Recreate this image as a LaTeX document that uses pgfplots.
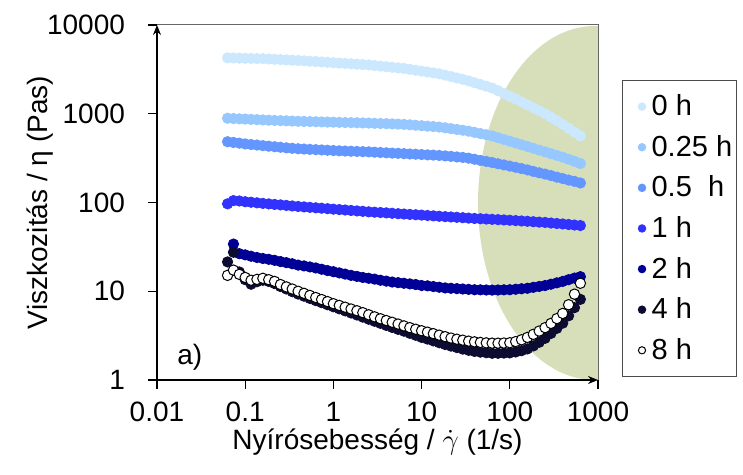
\documentclass[border=0pt]{standalone}
\usepackage{fontspec}
\setmainfont{Liberation Sans}
\usepackage{pgfplots}
\usepackage{pgfplotstable}
\pgfplotsset{compat=1.18}
\usetikzlibrary{arrows.meta}

\definecolor{c0}{RGB}{204,232,255}
\definecolor{c1}{RGB}{150,200,255}
\definecolor{c2}{RGB}{100,150,255}
\definecolor{c3}{RGB}{50,50,255}
\definecolor{c4}{RGB}{0,0,150}
\definecolor{c5}{RGB}{12,12,50}
\definecolor{ellg}{RGB}{214,223,186}

% shear rate (1/s), viscosity (Pas) after 0, 0.25, 0.5, 1, 2, 4, 8 h
\pgfplotstableread{
x      h0   h025 h05 h1    h2    h4   h8
0.0631 4266 891  484 96.6  nan   21.4 15.1
0.0736 4246 883  475 105   34.0  27.5 17.3
0.0858 4230 876  466 104   26.5  16.5 15.5
0.1    4217 871  457 102   25.7  13.5 14.3
0.1166 4198 864  450 100.7 24.8  12.0 13.3
0.1359 4182 858  444 99.2  24.0  12.8 13.6
0.1585 4169 851  437 97.7  23.4  13.3 14.0
0.1848 4137 846  431 96.4  22.9  12.9 13.5
0.2154 4106 841  425 95.1  22.3  12.2 12.9
0.2512 4074 836  419 94.0  21.6  11.3 11.9
0.2929 4043 832  413 92.7  21.0  10.6 11.2
0.3415 4012 827  408 91.4  20.4  9.9  10.6
0.3981 3981 822  403 90.2  19.7  9.3  10.0
0.4642 3944 819  400 89.2  19.3  8.8  9.47
0.5412 3908 816  397 88.2  18.8  8.3  8.97
0.631  3873 813  394 87.1  18.3  7.85 8.5
0.7356 3837 809  391 86.2  17.7  7.44 8.07
0.8577 3799 806  388 85.2  17.1  7.05 7.65
1      3758 804  385 84.1  16.6  6.68 7.24
1.166  3724 800  382 83.2  16.1  6.34 6.92
1.359  3690 797  380 82.3  15.6  6.01 6.61
1.585  3656 794  378 81.3  15.1  5.69 6.31
1.848  3617 791  376 80.4  14.7  5.40 6.03
2.154  3581 788  374 79.5  14.3  5.11 5.74
2.512  3548 785  372 78.5  14.0  4.84 5.43
2.929  3494 780  369 77.8  13.7  4.59 5.15
3.415  3441 776  366 77.1  13.3  4.35 4.90
3.981  3388 773  363 76.4  13.0  4.12 4.68
4.642  3337 768  360 75.6  12.7  3.91 4.47
5.412  3286 764  358 74.8  12.5  3.72 4.27
6.31   3236 759  355 74.1  12.3  3.55 4.07
7.356  3163 750  352 73.4  12.1  3.36 3.89
8.577  3091 742  350 72.8  11.9  3.19 3.73
10     3020 733  347 72.1  11.6  3.02 3.59
11.66  2951 725  344 71.4  11.5  2.89 3.46
13.59  2884 717  342 70.7  11.3  2.76 3.33
15.85  2818 708  339 70.0  11.1  2.63 3.20
18.48  2721 694  335 69.3  10.9  2.51 3.08
21.54  2625 680  331 68.7  10.8  2.41 2.97
25.12  2529 665  326 68.1  10.7  2.32 2.88
29.29  2442 652  322 67.4  10.6  2.23 2.81
34.15  2346 636  316 66.7  10.5  2.16 2.74
39.81  2239 617  307 66.1  10.4  2.10 2.69
46.42  2139 598  298 65.6  10.37 2.06 2.65
54.12  2043 580  290 65.1  10.33 2.03 2.62
63.1   1950 562  282 64.6  10.3  2.00 2.60
73.56  1817 537  273 64.1  10.33 2.00 2.60
85.77  1691 513  265 63.6  10.37 2.01 2.61
100    1574 490  257 63.1  10.4  2.02 2.63
116.6  1467 468  249 62.5  10.53 2.07 2.71
135.9  1362 447  241 61.9  10.67 2.14 2.84
158.5  1259 427  233 61.4  10.8  2.24 3.02
184.8  1168 408  224 60.7  11.07 2.42 3.27
215.4  1081 389  216 60.1  11.33 2.66 3.56
251.2  1000 372  209 59.6  11.6  2.95 3.89
292.9  914  355  201 58.7  12.0  3.35 4.34
341.5  834  339  193 58.0  12.43 3.82 4.92
398.1  759  324  186 57.3  12.9  4.37 5.62
464.2  684  307  179 56.5  13.5  5.29 7.05
541.2  618  291  173 55.7  14.07 6.53 9.27
631    562  275  166 55.0  14.6  8.1  12.3
}\visc

\begin{document}
\begin{tikzpicture}
\useasboundingbox (-78.5pt,-47.5pt) rectangle (293pt,190pt);
\begin{axis}[
  at={(0,0)}, anchor=south west,
  scale only axis, width=220.5pt, height=177.5pt,
  xmode=log, ymode=log,
  xmin=0.01, xmax=1000, ymin=1, ymax=10000,
  axis lines=left,
  axis line style={line width=0.8pt, -{Stealth[length=5pt,width=4pt]}},
  axis on top,
  xtick={0.01,0.1,1,10,100,1000}, xticklabels={0.01,0.1,1,10,100,1000},
  ytick={1,10,100,1000,10000}, yticklabels={1,10,100,1000,10000},
  xminorticks=false, yminorticks=false,
  tick align=outside, major tick length=4.5pt,
  tick style={black, line width=0.6pt},
  ticklabel style={font=\fontsize{14}{14}\selectfont},
  xticklabel style={yshift=-3pt},
  yticklabel style={xshift=-8pt},
  xlabel={Nyírósebesség / $\dot{\gamma}$ (1/s)},
  ylabel={Viszkozitás / η (Pas)},
  every axis x label/.style={at={(axis description cs:0.5,-0.197)}, anchor=base,
    font=\fontsize{14}{14}\selectfont},
  every axis y label/.style={at={(axis description cs:-0.265,0.5)}, rotate=90, anchor=center,
    font=\fontsize{14}{14}\selectfont},
  legend style={at={(1.054,0.845)}, anchor=north west, draw=black!70, line width=0.6pt,
    font=\fontsize{14.5}{14.5}\selectfont, row sep=4.3pt, inner xsep=0pt, inner ysep=5pt,
    cells={anchor=west}},
  legend image code/.code={\path (-9.5pt,0pt) (2.5pt,0pt); \draw[#1, mark size=1.8pt] plot coordinates {(0pt,0pt)};},
  after end axis/.code={\draw[black!60, line width=0.5pt] (rel axis cs:0,1) -- (rel axis cs:1,1) -- (rel axis cs:1,0);},
]
\fill[ellg] (axis cs:925,98.7) ellipse [x radius=58.5pt, y radius=88.5pt];
\addplot[only marks, mark=*, mark size=2.6pt, color=c0, mark options={draw=c0, fill=c0}] table[x=x, y=h0] {\visc};
\addlegendentry{0 h}
\addplot[only marks, mark=*, mark size=2.6pt, color=c1, mark options={draw=c1, fill=c1}] table[x=x, y=h025] {\visc};
\addlegendentry{0.25 h}
\addplot[only marks, mark=*, mark size=2.6pt, color=c2, mark options={draw=c2, fill=c2}] table[x=x, y=h05] {\visc};
\addlegendentry{0.5\ \ h}
\addplot[only marks, mark=*, mark size=2.6pt, color=c3, mark options={draw=c3, fill=c3}] table[x=x, y=h1] {\visc};
\addlegendentry{1 h}
\addplot[only marks, mark=*, mark size=2.6pt, color=c4, mark options={draw=c4, fill=c4}] table[x=x, y=h2] {\visc};
\addlegendentry{2 h}
\addplot[only marks, mark=*, mark size=2.6pt, color=c5, mark options={draw=c5, fill=c5}] table[x=x, y=h4] {\visc};
\addlegendentry{4 h}
\addplot[only marks, mark=*, mark size=2.6pt, color=black, mark options={draw=black, fill=white, line width=0.5pt}] table[x=x, y=h8] {\visc};
\addlegendentry{8 h}
\node[anchor=west, font=\fontsize{14}{14}\selectfont] at (axis description cs:0.03,0.065) {a)};
\end{axis}
\end{tikzpicture}
\end{document}
